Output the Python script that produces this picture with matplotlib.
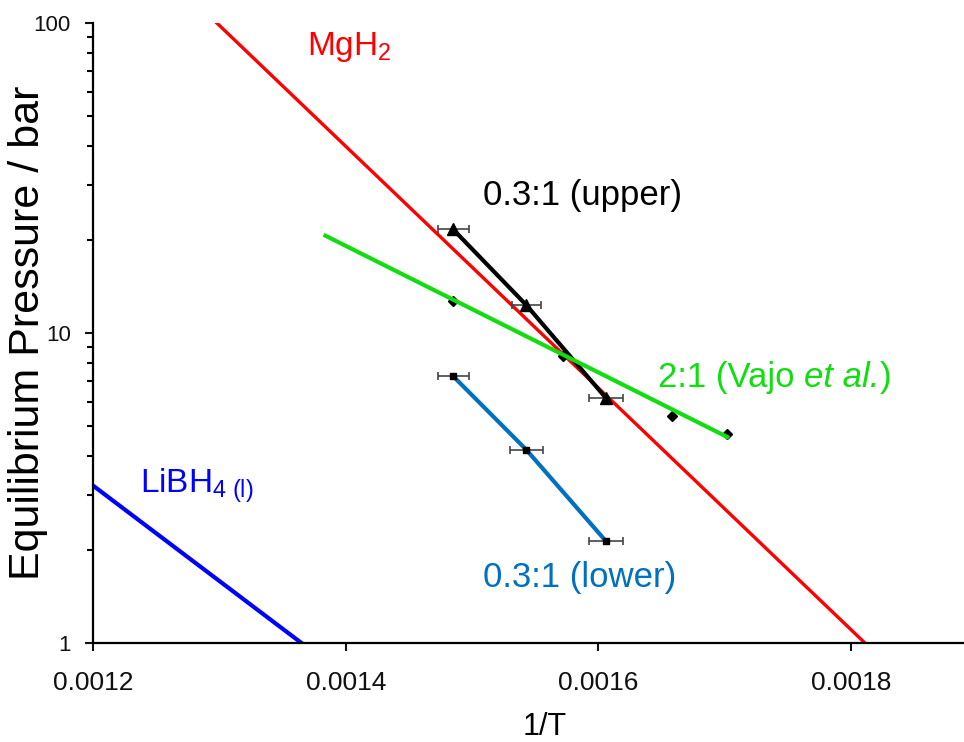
import matplotlib
matplotlib.use("Agg")
import matplotlib.pyplot as plt
from matplotlib.ticker import LogLocator, NullFormatter, FixedLocator

plt.rcParams['font.family'] = ['Liberation Sans', 'DejaVu Sans']
plt.rcParams['mathtext.fontset'] = 'custom'
plt.rcParams['mathtext.rm'] = 'Liberation Sans'
plt.rcParams['mathtext.it'] = 'Liberation Sans:italic'

# MgH2 van't Hoff line (end points)
mgh2_x = [0.001298, 0.001811]
mgh2_p = [100, 1]

# LiBH4 (l) line
libh4_x = [0.00120, 0.001365]
libh4_p = [3.22, 1]

# 0.3:1 upper plateau
upper_x = [0.001485, 0.001543, 0.001606]
upper_p = [21.6, 12.3, 6.17]
upper_err = [1.23e-5, 1.15e-5, 1.32e-5]

# 0.3:1 lower plateau
lower_x = [0.001485, 0.001543, 0.001606]
lower_p = [7.26, 4.20, 2.13]
lower_err = [1.23e-5, 1.30e-5, 1.32e-5]

# 2:1 (Vajo et al.) fit line and data
vajo_fit_x = [0.001384, 0.001702]
vajo_fit_p = [20.6, 4.62]
vajo_x = [0.001485, 0.001572, 0.001658, 0.001702]
vajo_p = [12.7, 8.4, 5.4, 4.72]

xticks = [0.0012, 0.0014, 0.0016, 0.0018]
xticklabels = ['0.0012', '0.0014', '0.0016', '0.0018']
yticks = [1, 10, 100]
yticklabels = ['1', '10', '100']

fig = plt.figure(figsize=(9.64, 7.42), dpi=100)
ax = fig.add_axes([0.0965, 0.1334, 0.9035, 0.8356])

ax.plot(mgh2_x, mgh2_p, color='#ff0000', lw=2.4, zorder=2)
ax.plot(libh4_x, libh4_p, color='#0000ff', lw=3.0, zorder=2)

ax.errorbar(upper_x, upper_p, xerr=upper_err, color='black', lw=3.0,
            marker='^', ms=8, ecolor='#444444', elinewidth=1.2, capsize=3,
            capthick=1.2, zorder=3)
ax.errorbar(lower_x, lower_p, xerr=lower_err, color='#0070c0', lw=3.0,
            marker='s', ms=5, mfc='black', mec='black', ecolor='#444444',
            elinewidth=1.2, capsize=3, capthick=1.2, zorder=3)
ax.plot(vajo_x, vajo_p, ls='none', marker='D', ms=5, color='black', zorder=3)
ax.plot(vajo_fit_x, vajo_fit_p, color='#11dd11', lw=3.0, zorder=4)

ax.set_yscale('log')
ax.set_xlim(0.0012, 0.0018894)
ax.set_ylim(1, 100)

ax.xaxis.set_major_locator(FixedLocator(xticks))
ax.set_xticklabels(xticklabels)
ax.yaxis.set_major_locator(FixedLocator(yticks))
ax.set_yticklabels(yticklabels)
ax.yaxis.set_minor_locator(LogLocator(base=10, subs=range(2, 10)))
ax.yaxis.set_minor_formatter(NullFormatter())

for s in ['top', 'right']:
    ax.spines[s].set_visible(False)
for s in ['left', 'bottom']:
    ax.spines[s].set_linewidth(1.6)

ax.tick_params(axis='x', which='major', direction='out', length=6, width=1.5,
               labelsize=19, pad=14, colors='#111111')
ax.tick_params(axis='y', which='major', direction='out', length=6, width=1.5,
               labelsize=16, pad=10, colors='#111111')
ax.tick_params(axis='y', which='minor', direction='out', length=4, width=1.5)

ax.set_xlabel('1/T', fontsize=22)
ax.xaxis.set_label_coords(0.519, -0.112)
ax.set_ylabel('Equilibrium Pressure / bar', fontsize=31)
ax.yaxis.set_label_coords(-0.052, 0.5)

ax.text(0.0013694, 78.9, r'MgH$_2$', color='#ff0000', fontsize=24, va='baseline')
ax.text(0.0015087, 25.9, '0.3:1 (upper)', color='black', fontsize=25, va='baseline')
ax.text(0.0015087, 1.52, '0.3:1 (lower)', color='#0070c0', fontsize=25, va='baseline')
ax.text(0.0012372, 3.05, r'LiBH$_{4\ \mathrm{(l)}}$', color='#0000ff', fontsize=24,
        va='baseline')

# "2:1 (Vajo et al.)" built from pieces so the italic part sits flush
pieces = [('2:1 (Vajo ', 'normal'), ('et al.', 'italic'), (')', 'normal')]
renderer = fig.canvas.get_renderer()
x0 = 0.0016472
for txt, style in pieces:
    t = ax.text(x0, 6.70, txt, color='#11dd11', fontsize=25, style=style,
                va='baseline')
    bb = t.get_window_extent(renderer=renderer)
    x0 = ax.transData.inverted().transform((bb.x1, bb.y0))[0]

fig.savefig('out.png', dpi=100)
